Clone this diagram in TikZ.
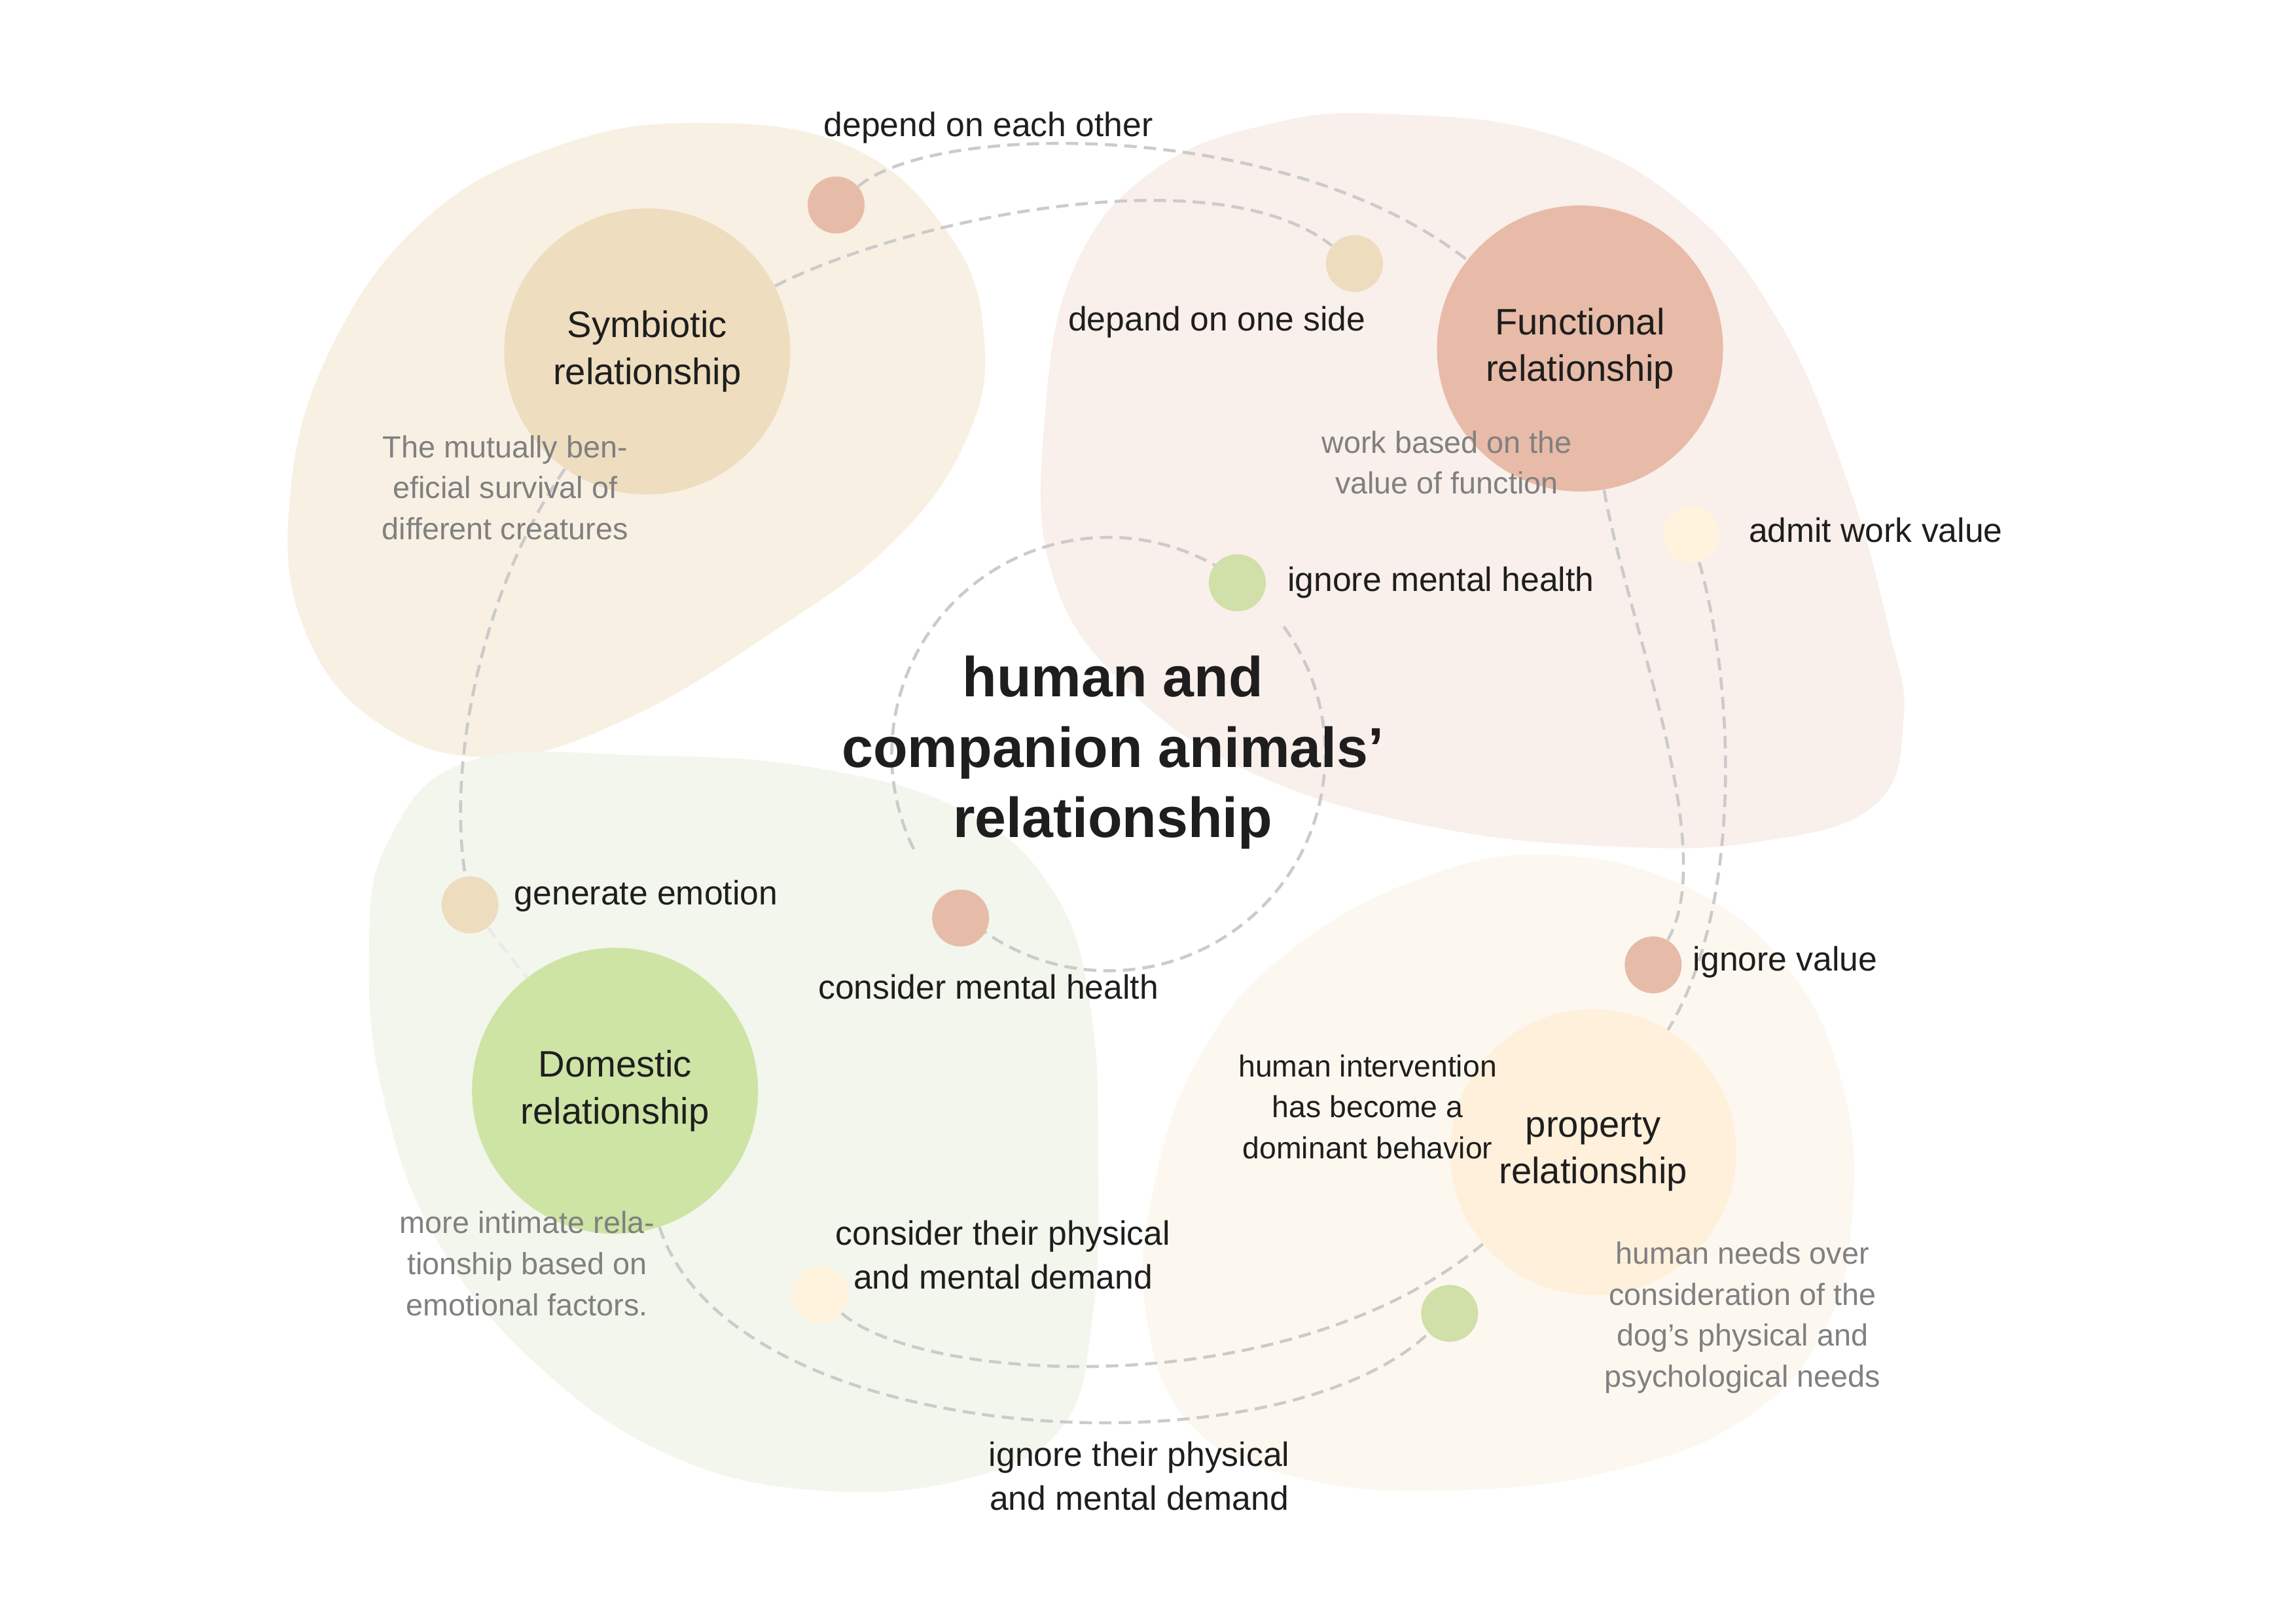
\documentclass[tikz,border=0pt]{standalone}
\usepackage{fontspec}
\setmainfont{Liberation Sans}

\definecolor{symblob}{HTML}{F8F0E3}
\definecolor{funblob}{HTML}{F9EFEB}
\definecolor{domblob}{HTML}{F3F6EC}
\definecolor{problob}{HTML}{FCF8F0}
\definecolor{symfill}{HTML}{EEDDBF}
\definecolor{funfill}{HTML}{E7BBA8}
\definecolor{domfill}{HTML}{CDE4A5}
\definecolor{profill}{HTML}{FFF0DB}
\definecolor{pinkdot}{HTML}{E6BCA8}
\definecolor{tandot}{HTML}{EEDCBE}
\definecolor{greendot}{HTML}{D1DFA8}
\definecolor{creamdot}{HTML}{FFF3DE}
\definecolor{linegray}{HTML}{CBCBCB}
\definecolor{notegray}{HTML}{808080}
\definecolor{inkblack}{HTML}{1E1E1E}

\pgfdeclarelayer{blob}
\pgfdeclarelayer{link}
\pgfsetlayers{blob,link,main}

\tikzset{
 rel/.style={circle, minimum size=4.37cm, inner sep=0pt, align=center, text=inkblack, font=\fontsize{16}{20.4}\selectfont},
 dot/.style={circle, minimum size=0.87cm, inner sep=0pt},
 lab/.style={inner sep=0pt, align=center, text=inkblack, font=\fontsize{14.7}{19.1}\selectfont},
 note/.style={inner sep=0pt, align=center, text=notegray, font=\fontsize{13.3}{17.8}\selectfont},
 headline/.style={inner sep=0pt, align=center, text=inkblack, font=\bfseries\fontsize{24.5}{30.6}\selectfont},
 link/.style={draw=linegray, line width=1.3pt, dash pattern=on 5.4pt off 3.1pt},
}

\begin{document}
\begin{tikzpicture}[x=0.022372cm, y=-0.022372cm]
 \useasboundingbox (0,0) rectangle (1568,1108.5);

 % soft areas behind the four relationships
 \begin{pgfonlayer}{blob}
 \fill[white] (0,0) rectangle (1568,1108.5);
 \fill[symblob] plot[smooth cycle, tension=0.7] coordinates {(476,84) (580,100) (648,160) (672,230) (660,300) (610,370) (530,430) (430,490) (340,517) (260,495) (208,430) (198,340) (225,240) (290,150) (380,100)};
 \fill[funblob] plot[smooth cycle, tension=0.7] coordinates {(950,78) (1060,92) (1150,140) (1215,220) (1262,330) (1290,430) (1300,490) (1280,550) (1200,575) (1100,578) (980,565) (860,530) (770,470) (718,390) (714,280) (735,180) (790,115) (870,84)};
 \fill[domblob] plot[smooth cycle, tension=0.7] coordinates {(320,520) (440,516) (560,525) (660,555) (720,610) (745,690) (750,800) (746,900) (725,975) (660,1010) (560,1018) (460,995) (370,935) (300,850) (262,750) (252,650) (265,575)};
 \fill[problob] plot[smooth cycle, tension=0.7] coordinates {(1057,584) (1150,605) (1220,660) (1258,740) (1265,830) (1245,910) (1190,970) (1100,1005) (990,1018) (890,1010) (815,975) (783,900) (788,810) (820,720) (880,650) (970,600)};
 \end{pgfonlayer}

 % relationship circles
 \node[rel, fill=symfill] (sym) at (442,240) {Symbiotic\\relationship};
 \node[rel, fill=funfill] (fun) at (1079,238) {Functional\\relationship};
 \node[rel, fill=domfill] (dom) at (420,745) {Domestic\\relationship};
 \node[rel, fill=profill] (pro) at (1088,787) {property\\relationship};

 % small dots
 \node[dot, fill=pinkdot] (deo) at (571,140) {};
 \node[dot, fill=tandot] (ods) at (925,180) {};
 \node[dot, fill=greendot] (imh) at (845,398) {};
 \node[dot, fill=creamdot] (awv) at (1155,365) {};
 \node[dot, fill=tandot] (ge) at (321,618) {};
 \node[dot, fill=pinkdot] (cmh) at (656,627) {};
 \node[dot, fill=pinkdot] (iv) at (1129,659) {};
 \node[dot, fill=creamdot] (cpm) at (560,884) {};
 \node[dot, fill=greendot] (ipm) at (990,897) {};

 \coordinate (hub) at (757,515); % centre of the ring

 % dashed links
 \begin{pgfonlayer}{link}
 \draw[link] (deo) .. controls (640,82) and (880,82) .. (fun);
 \draw[link] (sym) .. controls (618,150) and (830,105) .. (ods);
 \draw[link] (sym) .. controls (330,400) and (305,520) .. (ge);
 \draw[link, draw=linegray!40] (ge) -- (dom);
 \draw[link] (fun) .. controls (1110,420) and (1175,580) .. (iv);
 \draw[link] (awv) .. controls (1185,470) and (1190,620) .. (pro);
 \draw[link] (cpm) .. controls (630,945) and (880,960) .. (pro);
 \draw[link] (dom) .. controls (500,990) and (870,1010) .. (ipm);
 \draw[link] (hub) ++(154:148) arc[start angle=154, end angle=300, radius=148];
 \draw[link] (hub) ++(324:148) arc[start angle=324, end angle=492, radius=148];
 \end{pgfonlayer}

 % labels
 \node[lab] (deot) at (675,87) {depend on each other};
 \node[lab] (odst) at (831,220) {depand on one side};
 \node[lab, anchor=west] (imht) at (879,398) {ignore mental health};
 \node[lab, anchor=west] (awvt) at (1194,362) {admit work value};
 \node[lab, anchor=west] (get) at (351,612) {generate emotion};
 \node[lab] (cmht) at (675,674) {consider mental health};
 \node[lab, anchor=west] (ivt) at (1156,657) {ignore value};
 \node[lab] (cpmt) at (685,857) {consider their physical\\and mental demand};
 \node[lab] (ipmt) at (778,1008) {ignore their physical\\and mental demand};

 % notes
 \node[note] (symn) at (345,333) {The mutually ben-\\eficial survival of\\different creatures};
 \node[note] (funn) at (988,316) {work based on the\\value of function};
 \node[note] (domn) at (360,863) {more intimate rela-\\tionship based on\\emotional factors.};
 \node[note] (pron) at (1190,900) {human needs over\\consideration of the\\dog’s physical and\\psychological needs};
 \node[lab, font=\fontsize{13.2}{17.8}\selectfont] (hint) at (934,756) {human intervention\\has become a\\dominant behavior};

 \node[headline] (ttl) at (760,514) {human and\\companion animals’\\relationship};
\end{tikzpicture}
\end{document}
